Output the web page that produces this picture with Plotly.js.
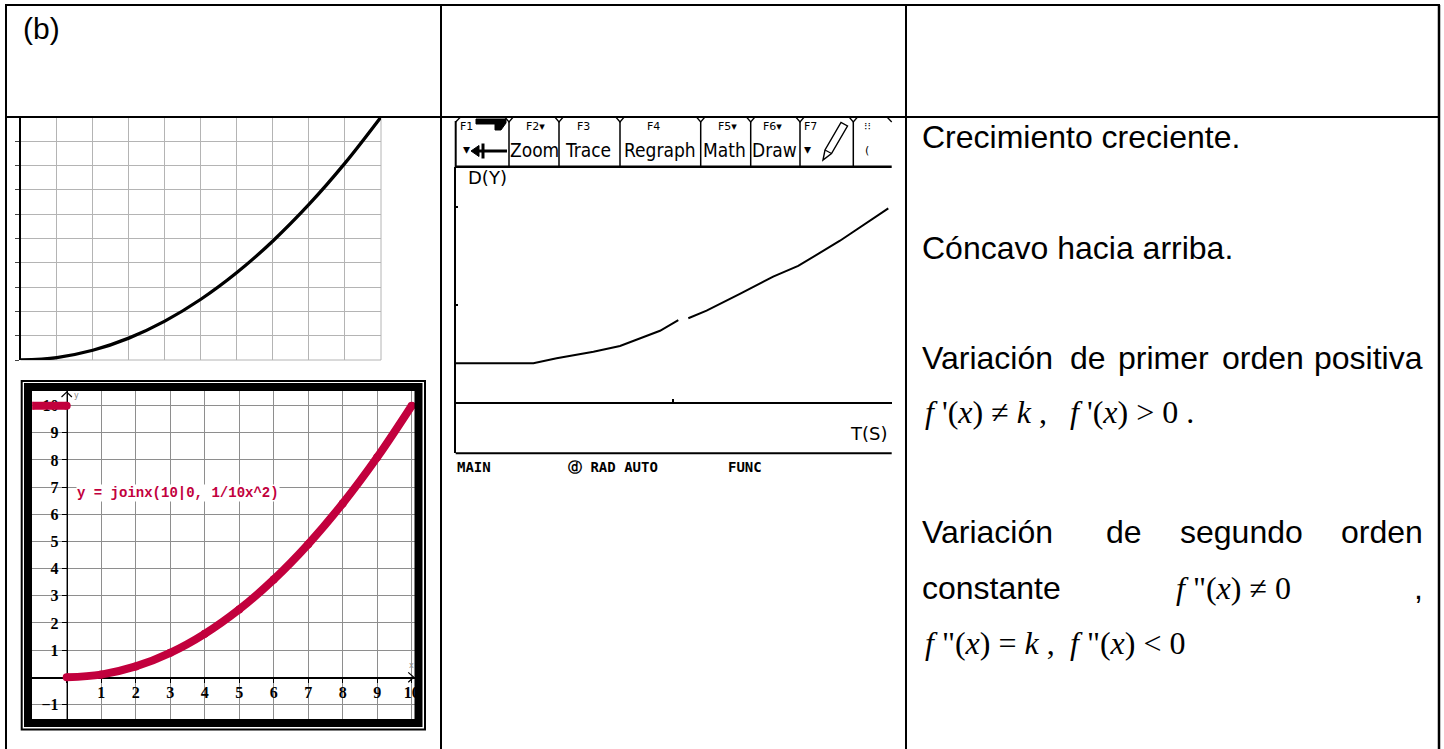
<!DOCTYPE html>
<html><head><meta charset="utf-8">
<script src="https://cdn.plot.ly/plotly-3.0.1.min.js"></script>
<style>html,body{margin:0;padding:0;background:#fff;}#chart{width:1444px;height:749px;}</style>
</head><body><div id="chart"></div>
<script>
// ---------- data ----------
// top-left sketch: curve read from the grid
const sketchX = [0, 1, 2, 3, 4, 5, 6, 7, 8, 9, 10];
const sketchY = [0, 0.1, 0.4, 0.9, 1.6, 2.5, 3.6, 4.9, 6.4, 8.1, 10];
// bottom-left graph: y = joinx(10|0, 1/10x^2)
const redX = [0, 1, 2, 3, 4, 5, 6, 7, 8, 9, 10];
const redY = [0, 0.1, 0.4, 0.9, 1.6, 2.5, 3.6, 4.9, 6.4, 8.1, 10];
const joinX = [-1, 0];
const joinY = [10, 10];
const redXTicks = [0, 1, 2, 3, 4, 5, 6, 7, 8, 9, 10];
const redXTickText = ['', '1', '2', '3', '4', '5', '6', '7', '8', '9', '10'];
const redYTicks = [-1, 0, 1, 2, 3, 4, 5, 6, 7, 8, 9, 10];
const redYTickText = ['\u22121', '', '1', '2', '3', '4', '5', '6', '7', '8', '9', '10'];
const formulaLabel = 'y = joinx(10|0, 1/10x^2)';
// TI-89 screen: D(Y) against T(S)
const tiT = [0, 0.357, 0.464, 0.556, 0.633, 0.755, 0.847, 0.939, 1.023, null, 1.069, 1.153, 1.306, 1.459, 1.574, 1.766, 1.988];
const tiD = [0.407, 0.407, 0.458, 0.492, 0.525, 0.583, 0.661, 0.738, 0.847, null, 0.865, 0.942, 1.112, 1.288, 1.397, 1.654, 1.983];
const tiTopKeys = ['F1', 'F2\u25BE', 'F3', 'F4', 'F5\u25BE', 'F6\u25BE', 'F7', '\u205D\u205D'];
const tiMenu = ['Zoom', 'Trace', 'Regraph', 'Math', 'Draw'];
const tiStatus = ['MAIN', '\u24D3 RAD AUTO', 'FUNC'];
// right column text
const textPlain = ['Crecimiento creciente.', 'C\u00F3ncavo hacia arriba.'];
const line3Words = ['Variaci\u00F3n', 'de', 'primer', 'orden', 'positiva'];
const line5Words = ['Variaci\u00F3n', 'de', 'segundo', 'orden'];

// ---------- helpers (pixel -> paper) ----------
const W = 1444, H = 749;
const px = v => v / W;
const py = v => 1 - v / H;
function seg(x0, y0, x1, y1, w, c) {
  return {type: 'line', xref: 'paper', yref: 'paper', x0: px(x0), y0: py(y0), x1: px(x1), y1: py(y1),
    line: {color: c || '#000', width: w}};
}
function poly(pts, w, fill, close) {
  const d = pts.map((p, i) => (i ? 'L' : 'M') + px(p[0]).toFixed(5) + ',' + py(p[1]).toFixed(5)).join(' ') + (close ? ' Z' : '');
  return {type: 'path', xref: 'paper', yref: 'paper', path: d,
    line: {color: '#000', width: w}, fillcolor: fill ? '#000' : 'rgba(0,0,0,0)'};
}
function ann(text, x, y, xa, font, extra) {
  return Object.assign({text: text, xref: 'paper', yref: 'paper', x: px(x), y: py(y),
    xanchor: xa, yanchor: 'middle', showarrow: false, font: font}, extra || {});
}

const sans = {family: 'Liberation Sans, Arial, sans-serif', size: 32, color: '#000'};
const serif = {family: 'Liberation Serif, Times New Roman, serif', size: 32, color: '#000'};
const tiFont = {family: 'DejaVu Sans Condensed, DejaVu Sans, sans-serif', size: 19, color: '#000'};
const tiSmall = {family: 'DejaVu Sans, sans-serif', size: 11, color: '#000'};
const tiStatusFont = {family: 'DejaVu Sans Mono, monospace', size: 14, color: '#000', weight: 'bold'};
const red = '#c2003d';
const gridGray = '#b4b4b4';

// ---------- traces ----------
const traces = [
  {x: sketchX, y: sketchY, xaxis: 'x', yaxis: 'y', mode: 'lines', line: {color: '#000', width: 3.3, shape: 'spline'}, hoverinfo: 'skip'},
  {x: redX, y: redY, xaxis: 'x2', yaxis: 'y2', mode: 'lines+markers', line: {color: red, width: 8, shape: 'spline'},
    marker: {color: red, size: 8}, hoverinfo: 'skip'},
  {x: joinX, y: joinY, xaxis: 'x2', yaxis: 'y2', mode: 'lines+markers', line: {color: red, width: 8},
    marker: {color: red, size: 8}, hoverinfo: 'skip'},
  {x: tiT, y: tiD, xaxis: 'x3', yaxis: 'y3', mode: 'lines', line: {color: '#000', width: 2}, connectgaps: false, hoverinfo: 'skip'}
];

// ---------- shapes ----------
const shapes = [
  // edge grid lines of the top-left sketch
  Object.assign(seg(381, 117, 381, 360, 1, gridGray), {layer: 'below'}),
  Object.assign(seg(20.7, 360, 381, 360, 1, gridGray), {layer: 'below'}),
  // table
  seg(6, 5, 6, 749, 2), seg(5, 5, 1440, 5, 2), seg(1439, 5, 1439, 749, 2.5),
  seg(5, 117, 1440, 117, 2), seg(441, 5, 441, 749, 2), seg(906, 5, 906, 749, 2),
  // frame of the bottom-left graph
  {type: 'rect', xref: 'paper', yref: 'paper', x0: px(21.7), x1: px(425), y0: py(381), y1: py(729.5), line: {color: '#000', width: 2}},
  {type: 'rect', xref: 'paper', yref: 'paper', x0: px(28), x1: px(418.5), y0: py(387), y1: py(723), line: {color: '#000', width: 8}},
  // axis arrows of the bottom-left graph
  {type: 'path', xref: 'x2', yref: 'y2', path: 'M -0.15,10.32 L 0,10.5 L 0.15,10.32', line: {color: '#000', width: 1.2}},
  {type: 'path', xref: 'x2', yref: 'y2', path: 'M 9.9,0.18 L 10.06,0 L 9.9,-0.18', line: {color: '#000', width: 1.2}},
  // TI toolbar
  seg(455.7, 166.7, 891.7, 166.7, 2.5),
  seg(455.7, 453.3, 891.7, 453.3, 2),
  seg(455.7, 121, 455.7, 167, 2),
  poly([[460, 117.5], [455.7, 122]], 1.3),
  poly([[887.5, 117.5], [891.7, 122]], 1.3),
  // F1 icon
  poly([[476, 119], [506, 119], [506, 123], [501, 130], [495, 130], [495, 124], [476, 124]], 1, true, true),
  seg(475, 151, 507, 151, 3),
  poly([[471, 151], [479, 145.5], [479, 156.5]], 1, true, true),
  seg(483, 143.5, 483, 158.5, 3),
  // pencil
  poly([[823, 160], [825, 150], [841, 122.5], [847.5, 126], [831.5, 153.5]], 1.4, false, true),
  seg(825, 150, 831.5, 153.5, 1.2)
];
[509, 559, 620, 700.7, 750.7, 800, 853.3].forEach(x => {
  shapes.push(seg(x, 122, x, 166, 1.5));
  shapes.push(poly([[x - 3.8, 117.5], [x, 122], [x + 3.8, 117.5]], 1.3));
});

// ---------- annotations ----------
const annotations = [
  ann('(b)', 21, 28.5, 'left', {family: 'Liberation Sans, Arial, sans-serif', size: 30, color: '#000'}),
  ann(textPlain[0], 920, 137, 'left', sans),
  ann(textPlain[1], 920, 248, 'left', sans),
  ann(line3Words[0], 920, 358, 'left', sans),
  ann(line3Words[1], 1068, 358, 'left', sans),
  ann(line3Words[2], 1116, 358, 'left', sans),
  ann(line3Words[3], 1220, 358, 'left', sans),
  ann(line3Words[4], 1425, 358, 'right', sans),
  ann("<i>f</i> '(<i>x</i>) \u2260 <i>k</i> ,", 923, 412, 'left', serif),
  ann("<i>f</i> '(<i>x</i>) &gt; 0 .", 1068, 412, 'left', serif),
  ann(line5Words[0], 920, 532, 'left', sans),
  ann(line5Words[1], 1104, 532, 'left', sans),
  ann(line5Words[2], 1178, 532, 'left', sans),
  ann(line5Words[3], 1425, 532, 'right', sans),
  ann('constante', 920, 588, 'left', sans),
  ann('<i>f</i> "(<i>x</i>) \u2260 0', 1174, 588, 'left', serif),
  ann(',', 1425, 588, 'right', sans),
  ann('<i>f</i> "(<i>x</i>) = <i>k</i> ,', 923, 643, 'left', serif),
  ann('<i>f</i> "(<i>x</i>) &lt; 0', 1068, 643, 'left', serif),
  // red formula label
  {text: formulaLabel, xref: 'x2', yref: 'y2', x: 0.27, y: 6.8, xanchor: 'left', yanchor: 'middle', showarrow: false,
    bgcolor: '#fff', borderpad: 0, font: {family: 'Liberation Mono, Courier New, monospace', size: 14, color: red, weight: 'bold'}},
  {text: 'x', xref: 'x2', yref: 'y2', x: 9.98, y: 0.42, showarrow: false, font: {family: 'DejaVu Sans', size: 8, color: '#888'}},
  {text: 'y', xref: 'x2', yref: 'y2', x: 0.27, y: 10.38, showarrow: false, font: {family: 'DejaVu Sans', size: 8, color: '#888'}},
  // TI screen labels
  ann('D(Y)', 466, 178, 'left', {family: 'DejaVu Sans, sans-serif', size: 18, color: '#000'}),
  ann('T(S)', 889, 434, 'right', {family: 'DejaVu Sans, sans-serif', size: 18, color: '#000'}),
  ann(tiStatus[0], 455, 466.7, 'left', tiStatusFont),
  ann(tiStatus[1], 566, 466.7, 'left', tiStatusFont),
  ann(tiStatus[2], 726, 466.7, 'left', tiStatusFont),
  ann('\u25BE', 466, 149, 'center', {family: 'DejaVu Sans', size: 14, color: '#000'}),
  ann('\u25BE', 807, 149, 'center', {family: 'DejaVu Sans', size: 14, color: '#000'}),
  ann('(', 867, 151, 'center', {family: 'DejaVu Sans', size: 11, color: '#000'})
];
const topKeyX = [466, 535, 583, 653, 727, 772, 810, 867];
tiTopKeys.forEach((k, i) => annotations.push(ann(k, topKeyX[i], 126, 'center', tiSmall)));
const menuX = [534, 587.5, 660, 724, 774.5];
tiMenu.forEach((m, i) => annotations.push(ann(m, menuX[i], 150, 'center', tiFont)));

// ---------- layout ----------
const gridTicks = [0, 1, 2, 3, 4, 5, 6, 7, 8, 9, 10];
const tickFont = {family: 'Liberation Serif, Times New Roman, serif', size: 16, color: '#000', weight: 'bold'};
const layout = {
  width: W, height: H, margin: {l: 0, r: 0, t: 0, b: 0},
  paper_bgcolor: '#fff', plot_bgcolor: 'rgba(0,0,0,0)', showlegend: false,
  xaxis: {domain: [px(20.7), px(381)], range: [0, 10], tickvals: gridTicks, showticklabels: false, ticks: '',
    showgrid: true, gridcolor: gridGray, gridwidth: 1, zeroline: false, showline: false, fixedrange: true},
  yaxis: {domain: [py(360), py(117)], range: [0, 10], anchor: 'x', tickvals: gridTicks, showticklabels: false,
    ticks: 'outside', ticklen: 4, tickcolor: '#444', showgrid: true, gridcolor: gridGray, gridwidth: 1,
    zeroline: false, showline: true, linecolor: '#000', linewidth: 1.5, fixedrange: true},
  xaxis2: {domain: [px(32.3), px(415)], range: [-0.997, 10.096], anchor: 'free', position: py(677.3),
    tickvals: redXTicks, ticktext: redXTickText, ticks: 'outside', ticklen: 4, tickcolor: '#000',
    ticklabelstandoff: -4, tickfont: tickFont,
    showgrid: true, gridcolor: '#8e8e8e', gridwidth: 1, zeroline: false, showline: true, linecolor: '#000', linewidth: 1.2,
    layer: 'below traces', fixedrange: true},
  yaxis2: {domain: [py(719), py(390.7)], range: [-1.535, 10.55], anchor: 'free', position: px(66.7),
    tickvals: redYTicks, ticktext: redYTickText, ticks: 'outside', ticklen: 5, tickcolor: '#000',
    tickfont: tickFont,
    showgrid: true, gridcolor: '#8e8e8e', gridwidth: 1, zeroline: false, showline: true, linecolor: '#000', linewidth: 1.2,
    layer: 'below traces', fixedrange: true},
  xaxis3: {domain: [px(455.7), px(891.7)], range: [0, 2.0037], anchor: 'free', position: py(403.3),
    tickvals: [1], showticklabels: false, ticks: 'inside', ticklen: 3, tickwidth: 2, tickcolor: '#000',
    showgrid: false, zeroline: false, showline: true, linecolor: '#000', linewidth: 2, fixedrange: true},
  yaxis3: {domain: [py(453.3), py(167)], range: [-0.509, 2.404], anchor: 'x3',
    tickvals: [1, 2], showticklabels: false, ticks: 'inside', ticklen: 2, tickwidth: 2, tickcolor: '#000',
    showgrid: false, zeroline: false, showline: true, linecolor: '#000', linewidth: 2, fixedrange: true},
  shapes: shapes,
  annotations: annotations
};

Plotly.newPlot('chart', traces, layout, {staticPlot: true, displayModeBar: false});
</script>
</body></html>
